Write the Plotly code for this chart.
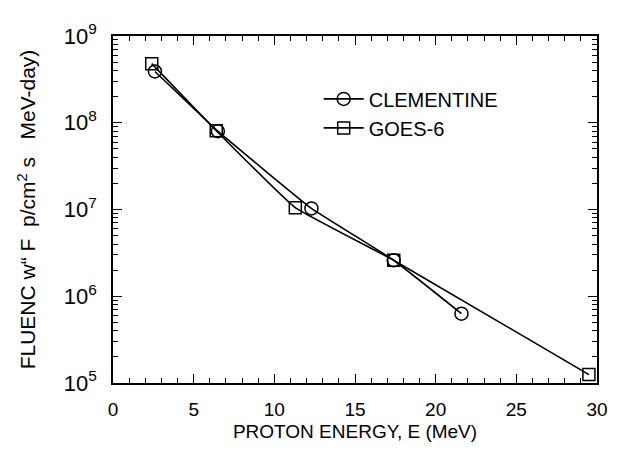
import plotly.graph_objects as go

# Data
clem_energy = [2.6, 6.5, 12.3, 17.4, 21.6]
clem_fluence = [3.9e8, 8.0e7, 1.03e7, 2.6e6, 6.3e5]

goes_energy = [2.4, 6.4, 11.3, 17.4, 29.5]
goes_fluence = [4.8e8, 8.1e7, 1.05e7, 2.6e6, 1.25e5]

y_tickvals = [1e5, 1e6, 1e7, 1e8, 1e9]
y_ticktext = ["10<sup>5</sup>", "10<sup>6</sup>", "10<sup>7</sup>", "10<sup>8</sup>", "10<sup>9</sup>"]
x_tickvals = [0, 5, 10, 15, 20, 25, 30]

minor_y = [m * 10 ** e for e in range(5, 9) for m in range(2, 10)]

font_family = "Liberation Sans, Arial, sans-serif"

fig = go.Figure()
fig.add_trace(go.Scatter(
    x=clem_energy, y=clem_fluence, name="CLEMENTINE",
    mode="lines+markers", line=dict(color="black", width=1.6, shape="spline", smoothing=0.3),
    marker=dict(symbol="circle-open", size=13, color="black", line=dict(width=1.5)),
))
fig.add_trace(go.Scatter(
    x=goes_energy, y=goes_fluence, name="GOES-6",
    mode="lines+markers", line=dict(color="black", width=1.6, shape="spline", smoothing=0.3),
    marker=dict(symbol="square-open", size=12, color="black", line=dict(width=1.5)),
))

# The page body adds an 8 px offset, so the figure is sized/margined to compensate
fig.update_layout(
    width=612, height=448,
    margin=dict(l=105, r=22, t=21, b=73),
    paper_bgcolor="white", plot_bgcolor="white",
    font=dict(family=font_family, color="black", size=19),
    legend=dict(x=0.425, y=0.875, xanchor="left", yanchor="top",
                bgcolor="rgba(0,0,0,0)", font=dict(size=20), tracegroupgap=0,
                itemwidth=40),
    showlegend=True,
)

fig.update_xaxes(
    range=[0, 30], tickvals=x_tickvals, ticks="inside", ticklen=9, tickwidth=1.2,
    tickcolor="black", showline=True, linecolor="black", linewidth=1.5, mirror="ticks",
    showgrid=False, zeroline=False, tickfont=dict(size=19), ticklabelstandoff=8,
    minor=dict(dtick=1, ticks="inside", ticklen=5, tickcolor="black", tickwidth=1, showgrid=False),
    title=dict(text="PROTON ENERGY, E (MeV)", font=dict(size=19), standoff=6),
)
fig.update_yaxes(
    type="log", range=[5, 9], tickvals=y_tickvals, ticktext=y_ticktext,
    ticks="inside", ticklen=9, tickwidth=1.2, tickcolor="black",
    showline=True, linecolor="black", linewidth=1.5, mirror="ticks",
    showgrid=False, zeroline=False, tickfont=dict(size=22), ticklabelstandoff=10,
    minor=dict(tickvals=minor_y, ticks="inside", ticklen=5, tickcolor="black", tickwidth=1, showgrid=False),
    title=dict(text="FLUENC w“ F  p/cm<sup>2</sup> s   MeV-day)", font=dict(size=21), standoff=22),
)

fig.write_html("out.html")
